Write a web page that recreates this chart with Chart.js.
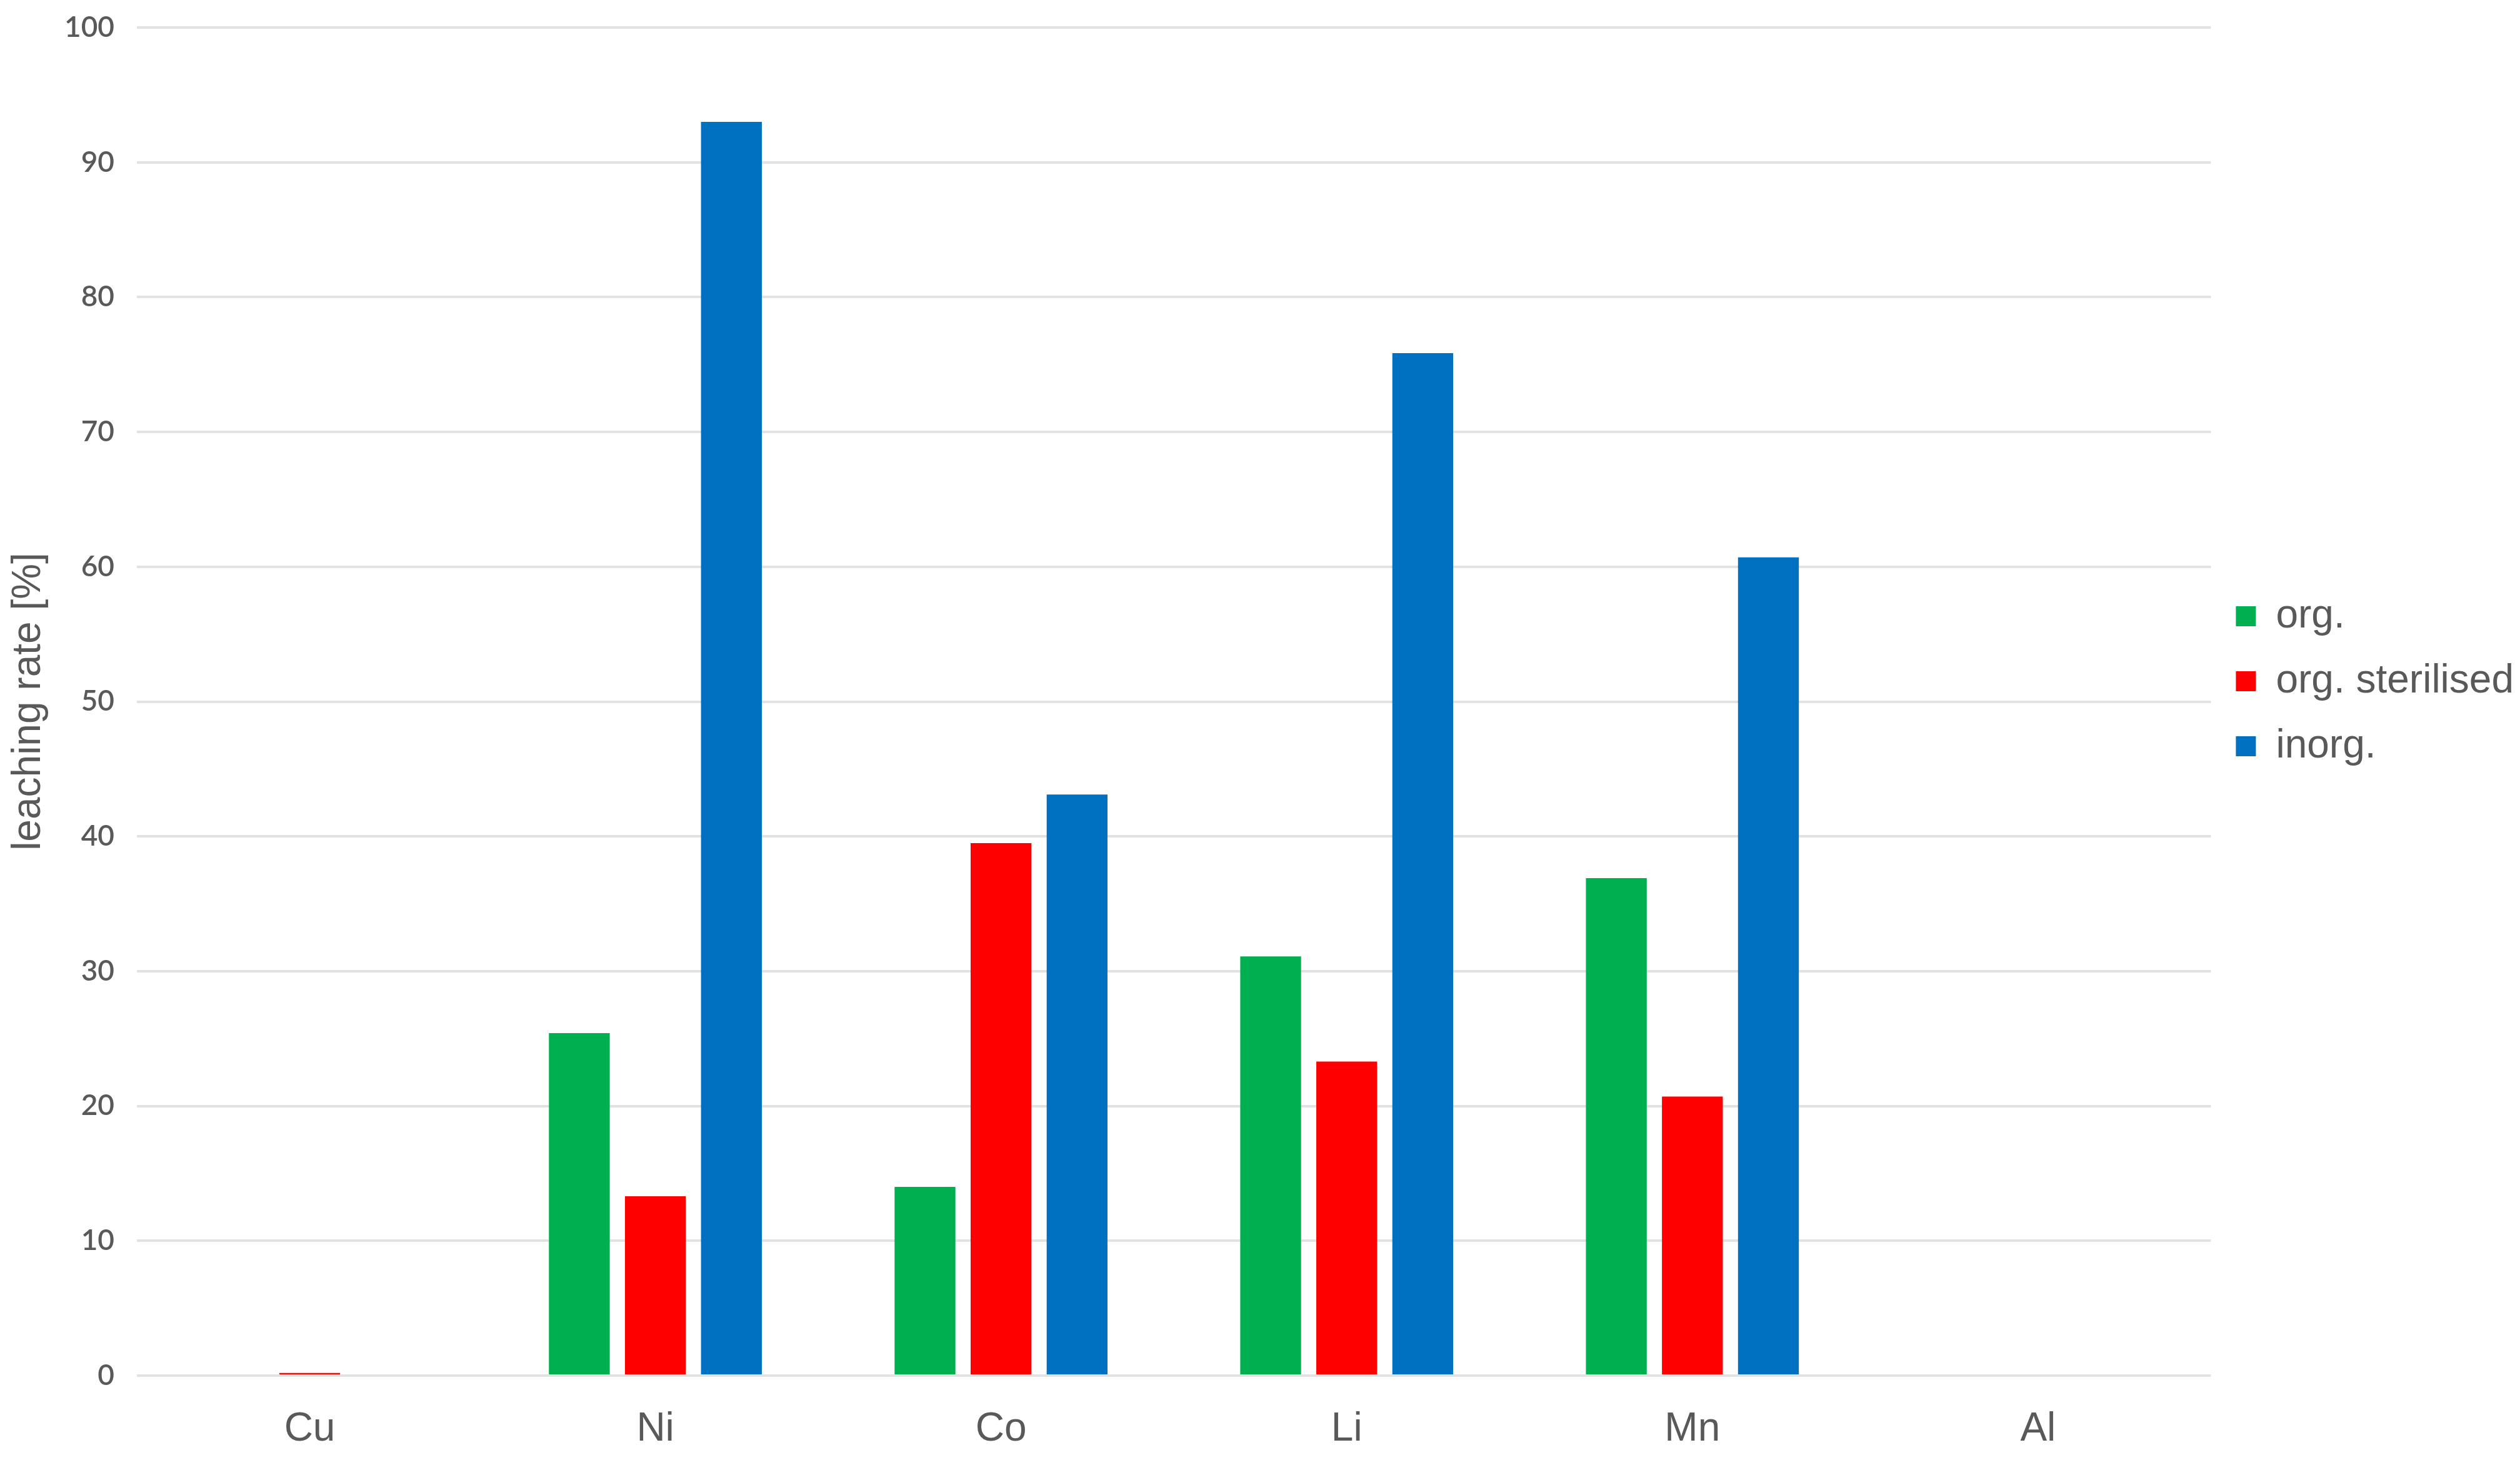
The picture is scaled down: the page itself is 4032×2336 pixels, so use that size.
<!DOCTYPE html>
<html>
<head>
<meta charset="utf-8">
<script src="https://cdn.jsdelivr.net/npm/chart.js@4/dist/chart.umd.min.js"></script>
<style>
  html, body { margin: 0; padding: 0; background: #ffffff; }
  #wrap { width: 4032px; height: 2336px; position: relative; }
</style>
</head>
<body>
<div id="wrap"><canvas id="c"></canvas></div>
<script>
const categories = ['Cu', 'Ni', 'Co', 'Li', 'Mn', 'Al'];
const seriesNames = ['org.', 'org. sterilised', 'inorg.'];
const orgValues = [0, 25.4, 14.0, 31.1, 36.9, 0];
const orgSterilisedValues = [0.2, 13.3, 39.5, 23.3, 20.7, 0];
const inorgValues = [0, 93.0, 43.1, 75.85, 60.7, 0];
const seriesColors = ['#00B050', '#FF0000', '#0070C0'];
const yTitle = 'leaching rate [%]';
const yMin = 0, yMax = 100, yStep = 10;

const textColor = '#595959';
const labelFont = { family: '"Liberation Sans", Arial, sans-serif', size: 64 };

const datasets = [orgValues, orgSterilisedValues, inorgValues].map((vals, i) => ({
  label: seriesNames[i],
  data: vals,
  backgroundColor: seriesColors[i],
  borderWidth: 0,
  categoryPercentage: 0.66,
  barPercentage: 0.8
}));

new Chart(document.getElementById('c'), {
  type: 'bar',
  data: { labels: categories, datasets },
  options: {
    responsive: true,
    maintainAspectRatio: false,
    devicePixelRatio: 1,
    animation: false,
    layout: { padding: { left: 0, right: 0, top: 44, bottom: 0 } },
    plugins: {
      tooltip: { enabled: false },
      legend: {
        position: 'right',
        align: 'start',
        fullSize: false,
        maxWidth: 499,
        title: { display: true, text: ' ', font: { size: 10, lineHeight: 1 }, padding: { top: 860, bottom: 0 } },
        labels: {
          boxWidth: 32,
          boxHeight: 32,
          padding: 40,
          color: textColor,
          font: labelFont
        }
      }
    },
    scales: {
      x: {
        grid: { display: false, drawTicks: false, tickLength: 0 },
        border: { display: false },
        ticks: { color: textColor, font: labelFont, padding: 48, maxRotation: 0, autoSkip: false },
        afterFit(scale) { scale.height = 135; }
      },
      y: {
        min: yMin,
        max: yMax,
        grid: { color: '#E2E2E2', lineWidth: 4, drawTicks: false, tickLength: 0 },
        border: { display: false },
        ticks: {
          stepSize: yStep,
          color: textColor,
          padding: 36,
          font: { family: 'Lato, "Open Sans", sans-serif', size: 46, weight: '600' }
        },
        title: {
          display: true,
          text: yTitle,
          color: textColor,
          font: labelFont,
          padding: { top: 8, bottom: 0 }
        },
        afterFit(scale) {
          scale.width = 219;
          scale.paddingTop = 0;
          scale.paddingBottom = 0;
        }
      }
    }
  }
});
</script>
</body>
</html>
